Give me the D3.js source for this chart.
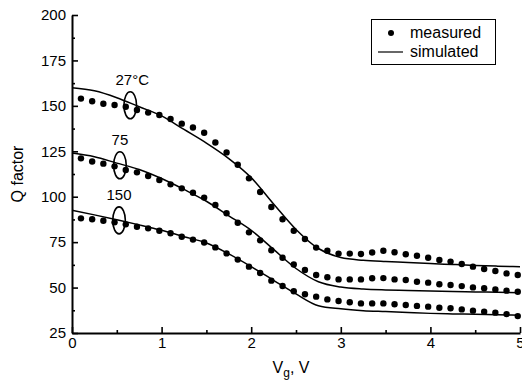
<!DOCTYPE html>
<html>
<head>
<meta charset="utf-8">
<script src="https://cdn.jsdelivr.net/npm/d3@7"></script>
<style>
  body { margin: 0; background: #fff; }
  text { font-family: "Liberation Sans", Arial, sans-serif; fill: #000; }
</style>
</head>
<body>
<script>
// gate voltage of the measured points (V)
var vgMeasured = [0.1, 0.225, 0.35, 0.475, 0.6, 0.725, 0.85, 0.975, 1.1, 1.225,
  1.35, 1.475, 1.6, 1.725, 1.85, 1.975, 2.1, 2.225, 2.35, 2.475,
  2.6, 2.725, 2.85, 2.975, 3.1, 3.225, 3.35, 3.475, 3.6, 3.725,
  3.85, 3.975, 4.1, 4.225, 4.35, 4.475, 4.6, 4.725, 4.85, 4.975];

var measured27 = [154, 152.5, 151.2, 150.5, 149.5, 147.7, 146.3, 145, 142.8, 140.2,
  138.1, 135.2, 129.8, 124.4, 117.6, 110.1, 102.6, 94.3, 87.6, 81.3,
  76.7, 72, 70.3, 68.7, 68.7, 68.5, 69.3, 70.3, 69.4, 68.3,
  67.5, 66.4, 65.2, 64.3, 63, 61.5, 60.2, 59.1, 57.8, 56.9];
var measured75 = [121.1, 119.4, 118.2, 116.7, 114.7, 113.4, 111.4, 109.2, 106.8, 104.6,
  102.2, 99.5, 95.4, 90.9, 85.7, 80.4, 76, 70.5, 66.4, 62.7,
  59.7, 56.9, 55.7, 54.5, 54.5, 54.5, 55.1, 55.2, 54.5, 54.2,
  53.2, 52.7, 51.8, 51.4, 50.8, 50.1, 49.6, 49, 48.3, 47.7];
var measured150 = [88.1, 87.6, 86.8, 85.9, 84.8, 83.5, 82.6, 81.3, 79.9, 78,
  76.4, 74.8, 72.1, 68.8, 65.4, 61.5, 58, 53.8, 50.9, 48,
  46.3, 45, 43.5, 42.6, 41.9, 41.3, 41.3, 41.3, 40.8, 40.4,
  39.9, 39.5, 38.9, 38.6, 38, 37.3, 36.7, 36.2, 35.4, 34.3];

// simulated curves
var vgSim = [0, 0.25, 0.5, 0.75, 1, 1.25, 1.5, 1.75, 2, 2.25, 2.5,
  2.75, 3, 3.25, 3.5, 3.75, 4, 4.25, 4.5, 4.75, 5];
var sim27 = [160, 158.3, 154.5, 149.5, 144.5, 137, 129.5, 121, 110.5, 96, 82,
  71.5, 66.5, 65, 64.3, 63.8, 63.2, 62.7, 62.2, 61.8, 61.5];
var sim75 = [124, 122, 118.5, 115, 110, 104, 97.5, 89.5, 81.5, 71, 60.5,
  53.2, 50.3, 49.2, 48.7, 48.4, 48.1, 47.8, 47.6, 47.4, 47.2];
var sim150 = [92.5, 90, 87.3, 84.5, 81.5, 78, 74.5, 68.5, 61.5, 54, 46.5,
  40, 38.3, 37.3, 36.8, 36.3, 35.8, 35.5, 35.3, 35, 34.8];

// temperature labels and the ellipse that marks each pair
var tempLabels = ["27\u00b0C", "75", "150"];
var ellipseVg = [0.65, 0.535, 0.525];
var ellipseQ = [150.3, 117.3, 87];

var xTicks = [0, 1, 2, 3, 4, 5];
var xMinor = [0.5, 1.5, 2.5, 3.5, 4.5];
var yTicks = [25, 50, 75, 100, 125, 150, 175, 200];
var yMinor = [37.5, 62.5, 87.5, 112.5, 137.5, 162.5, 187.5];

var width = 522,
    height = 383;

var svg = d3.select("body").append("svg")
    .attr("width", width)
    .attr("height", height);

var x = d3.scaleLinear().domain([0, 5]).range([72, 520]);
var y = d3.scaleLinear().domain([25, 200]).range([333, 15]);

// axes, ticks pointing inward
svg.append("g")
    .attr("transform", "translate(72,0)")
    .call(d3.axisLeft(y).tickValues(yTicks).tickFormat(d3.format("d"))
      .tickSize(-6).tickSizeOuter(0).tickPadding(6));
svg.append("g")
    .attr("transform", "translate(72,0)")
    .call(d3.axisLeft(y).tickValues(yMinor).tickSize(-3).tickSizeOuter(0).tickFormat(""))
    .select(".domain").remove();

svg.append("g")
    .attr("transform", "translate(0,333)")
    .call(d3.axisBottom(x).tickValues(xTicks).tickFormat(d3.format("d"))
      .tickSize(-6).tickSizeOuter(0).tickPadding(4));
svg.append("g")
    .attr("transform", "translate(0,333)")
    .call(d3.axisBottom(x).tickValues(xMinor).tickSize(-3).tickSizeOuter(0).tickFormat(""))
    .select(".domain").remove();

svg.selectAll(".domain").attr("stroke", "#000").attr("stroke-width", 2);
svg.selectAll(".tick line").attr("stroke", "#000").attr("stroke-width", 1.6);
svg.selectAll(".tick text")
    .style("font-size", "15px")
    .style("font-family", "Liberation Sans, Arial, sans-serif");

// axis titles
svg.append("text")
    .attr("transform", "translate(23,174) rotate(-90)")
    .attr("text-anchor", "middle")
    .style("font-size", "16px")
    .text("Q factor");

var xt = svg.append("text")
    .attr("x", 291)
    .attr("y", 373)
    .attr("text-anchor", "middle")
    .style("font-size", "16px");
xt.append("tspan").text("V");
xt.append("tspan").attr("dy", 4).style("font-size", "12px").text("g");
xt.append("tspan").attr("dy", -4).text(", V");

// simulated lines
var line = d3.line()
    .x(function(d) { return x(d[0]); })
    .y(function(d) { return y(d[1]); })
    .curve(d3.curveMonotoneX);

[sim27, sim75, sim150].forEach(function(s) {
  svg.append("path")
      .datum(d3.zip(vgSim, s))
      .attr("fill", "none")
      .attr("stroke", "#000")
      .attr("stroke-width", 1.5)
      .attr("d", line);
});

// measured dots
[measured27, measured75, measured150].forEach(function(s) {
  svg.append("g").selectAll("circle")
      .data(d3.zip(vgMeasured, s)).enter()
      .append("circle")
      .attr("cx", function(d) { return x(d[0]); })
      .attr("cy", function(d) { return y(d[1]); })
      .attr("r", 3.2)
      .attr("fill", "#000");
});

// ellipses + labels
svg.selectAll(".ell")
    .data(tempLabels).enter()
    .append("ellipse")
    .attr("class", "ell")
    .attr("cx", function(d, i) { return x(ellipseVg[i]); })
    .attr("cy", function(d, i) { return y(ellipseQ[i]); })
    .attr("rx", 6.3)
    .attr("ry", 13.5)
    .attr("fill", "none")
    .attr("stroke", "#000")
    .attr("stroke-width", 1.6);

svg.selectAll(".lab")
    .data(tempLabels).enter()
    .append("text")
    .attr("class", "lab")
    .attr("x", function(d, i) { return x(ellipseVg[i]) + (i == 0 ? 2 : 0); })
    .attr("y", function(d, i) { return y(ellipseQ[i]) - 20; })
    .attr("text-anchor", "middle")
    .style("font-size", "15px")
    .text(function(d) { return d; });

// legend
var legend = svg.append("g").attr("class", "legend");
legend.append("rect")
    .attr("x", 371.5)
    .attr("y", 19.5)
    .attr("width", 124)
    .attr("height", 45)
    .attr("fill", "#fff")
    .attr("stroke", "#000")
    .attr("stroke-width", 1);
legend.append("circle")
    .attr("cx", 391)
    .attr("cy", 33)
    .attr("r", 3)
    .attr("fill", "#000");
legend.append("line")
    .attr("x1", 378).attr("x2", 403)
    .attr("y1", 52).attr("y2", 52)
    .attr("stroke", "#000")
    .attr("stroke-width", 1.2);
legend.append("text")
    .attr("x", 410).attr("y", 38)
    .style("font-size", "16px")
    .text("measured");
legend.append("text")
    .attr("x", 410).attr("y", 57)
    .style("font-size", "16px")
    .text("simulated");
</script>
</body>
</html>
